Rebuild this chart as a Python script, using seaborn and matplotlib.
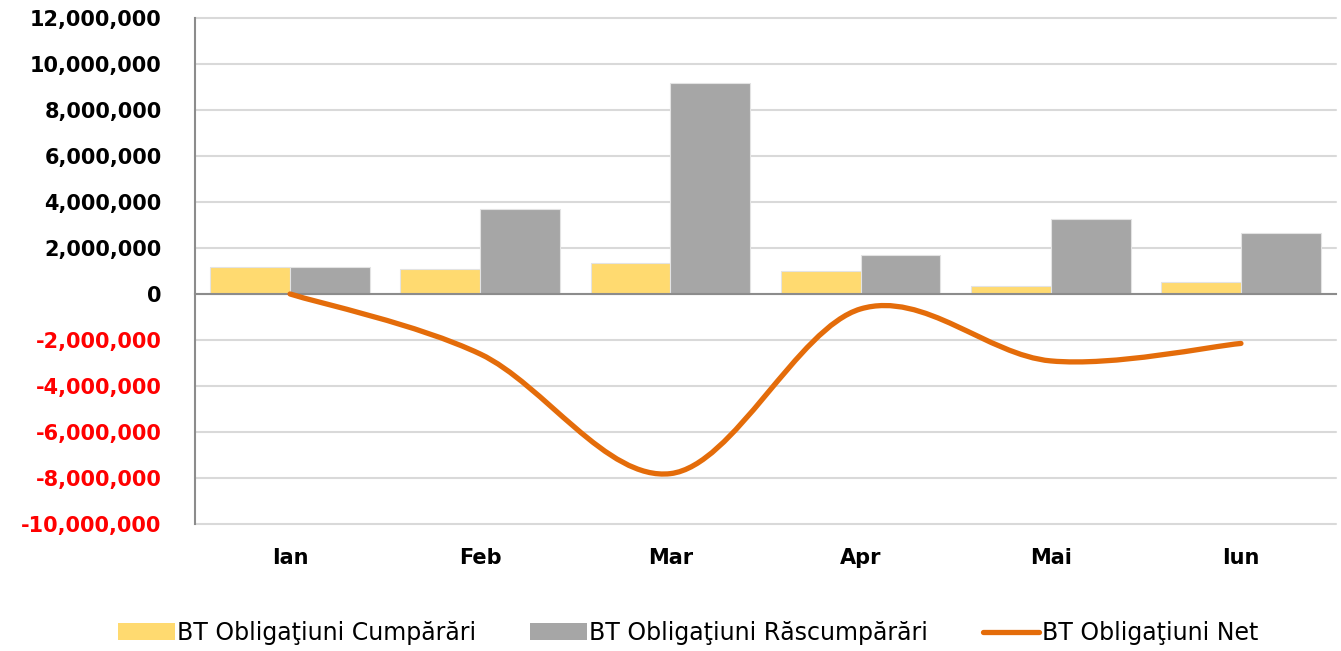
import matplotlib
matplotlib.use("Agg")
import matplotlib.pyplot as plt
import matplotlib.ticker as mticker
from matplotlib.path import Path
from matplotlib.patches import PathPatch, Patch
from matplotlib.lines import Line2D
import pandas as pd
import seaborn as sns

# Data
months = ["Ian", "Feb", "Mar", "Apr", "Mai", "Iun"]
cumparari = [1170000, 1090000, 1350000, 1020000, 330000, 500000]
rascumparari = [1180000, 3700000, 9160000, 1700000, 3260000, 2660000]
net = [0, -2610000, -7810000, -650000, -2910000, -2150000]

lbl_c = "BT Obligaţiuni Cumpărări"
lbl_r = "BT Obligaţiuni Răscumpărări"
lbl_n = "BT Obligaţiuni Net"

col_c = "#FFDA70"
col_r = "#A6A6A6"
col_n = "#E46C0A"

df = pd.DataFrame({
    "Luna": months * 2,
    "Valoare": cumparari + rascumparari,
    "Serie": [lbl_c] * len(months) + [lbl_r] * len(months),
})

sns.set_theme(style="white")
plt.rcParams["font.family"] = ["DejaVu Sans"]
plt.rcParams["text.color"] = "black"
plt.rcParams["xtick.color"] = "black"
plt.rcParams["ytick.color"] = "black"

fig = plt.figure(figsize=(13.41, 6.51), dpi=100)
ax = fig.add_axes([0.1454, 0.1951, 0.8509, 0.7773])

sns.barplot(data=df, x="Luna", y="Valoare", hue="Serie", order=months,
            palette=[col_c, col_r], saturation=1, width=0.84, gap=0, legend=False,
            edgecolor="#E3E3E3", linewidth=0.8, zorder=2, ax=ax)

# smoothed net line (Excel-style bezier through the points)
pts = list(zip(range(len(net)), net))
verts = [pts[0]]
codes = [Path.MOVETO]
for i in range(len(pts) - 1):
    p0 = pts[i - 1] if i > 0 else pts[i]
    p1 = pts[i]
    p2 = pts[i + 1]
    p3 = pts[i + 2] if i + 2 < len(pts) else pts[i + 1]
    c1 = (p1[0] + (p2[0] - p0[0]) / 6, p1[1] + (p2[1] - p0[1]) / 6)
    c2 = (p2[0] - (p3[0] - p1[0]) / 6, p2[1] - (p3[1] - p1[1]) / 6)
    verts += [c1, c2, p2]
    codes += [Path.CURVE4] * 3
ax.add_patch(PathPatch(Path(verts, codes), facecolor="none", edgecolor=col_n,
                       lw=3.8, capstyle="round", zorder=4))

ax.set_xlim(-0.5, 5.5)
ax.set_ylim(-10000000, 12000000)
ax.yaxis.set_major_locator(mticker.MultipleLocator(2000000))
ax.yaxis.set_major_formatter(mticker.FuncFormatter(lambda v, p: f"{v:,.0f}"))
ax.grid(axis="y", color="#D9D9D9", lw=1.5, zorder=0)
for gl in ax.yaxis.get_gridlines():
    gl.set_clip_on(False)
ax.set_axisbelow(True)
ax.set_xlabel("")
ax.set_ylabel("")

for s in ["top", "right"]:
    ax.spines[s].set_visible(False)
ax.spines["left"].set_color("#8C8C8C")
ax.spines["left"].set_linewidth(1.5)
ax.spines["bottom"].set_position(("data", 0))
ax.spines["bottom"].set_color("#8C8C8C")
ax.spines["bottom"].set_linewidth(1.5)
ax.spines["bottom"].set_zorder(3)

ax.tick_params(axis="y", direction="out", length=6, width=1.5, color="#8C8C8C",
               pad=18, labelsize=15)
for t in ax.get_yticklabels():
    t.set_fontweight("bold")
    t.set_color("red" if t.get_position()[1] < 0 else "black")

# boundary ticks on the zero axis, month labels at the bottom
ax.set_xticks([i - 0.5 for i in range(len(months) + 1)])
ax.set_xticklabels([])
ax.tick_params(axis="x", direction="out", length=6, width=1.5, color="#8C8C8C")
sec = ax.secondary_xaxis("bottom")
sec.set_xticks(range(len(months)))
sec.set_xticklabels(months, fontsize=15, fontweight="bold", color="black")
sec.tick_params(length=0, pad=17)
sec.spines["bottom"].set_visible(False)

handles = [Patch(facecolor=col_c, edgecolor="none", label=lbl_c),
           Patch(facecolor=col_r, edgecolor="none", label=lbl_r),
           Line2D([0], [0], color=col_n, lw=3.8, label=lbl_n)]
fig.legend(handles=handles, loc="center", bbox_to_anchor=(0.513, 0.028), ncol=3,
           frameon=False, handlelength=2.4, handletextpad=0.1, columnspacing=2.3,
           labelcolor="black", prop={"family": ["DejaVu Sans"], "size": 17})

fig.savefig("out.png", dpi=100)
